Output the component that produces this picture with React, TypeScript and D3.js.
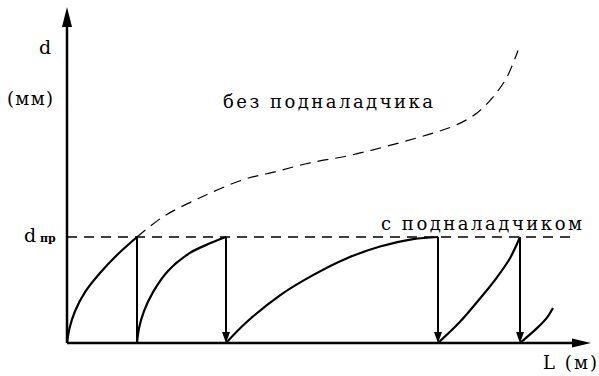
import React from 'react';
import * as d3 from 'd3';

// wear d vs path L, with and without the adjuster
const cycle1 = [[0, 0], [0.25, 0.14], [0.8, 0.3], [1.8, 0.48], [3.3, 0.66], [5.0, 0.83], [7.0, 1.0]];
const cycle2 = [[7.0, 0], [7.2, 0.14], [7.7, 0.3], [8.6, 0.48], [10.1, 0.68], [12.3, 0.85], [14.3, 0.94], [15.9, 1.0]];
const cycle3 = [[15.9, 0], [18, 0.2], [21.3, 0.45], [24.6, 0.64], [28, 0.8], [31.3, 0.91], [34.6, 0.98], [37.1, 1.0]];
const cycle4 = [[37.1, 0], [39.3, 0.2], [41.3, 0.42], [43, 0.62], [44.3, 0.8], [45.3, 1.0]];
const cycle5 = [[45.3, 0], [47, 0.14], [48, 0.24], [48.6, 0.33]];
const cycles = [cycle1, cycle2, cycle3, cycle4, cycle5];

const resetAt = [7.0, 15.9, 37.1, 45.3];
const resetArrow = [false, true, true, true];

const noAdjuster = [
  [7.0, 1.0], [9.6, 1.19], [13.3, 1.37], [17.6, 1.54], [21, 1.62], [24.3, 1.7],
  [28.3, 1.77], [33.3, 1.89], [36.6, 1.98], [39, 2.06], [41, 2.17], [42.6, 2.32],
  [44, 2.51], [45.1, 2.76],
];

const dLimit = 1.0;
const xMax = 52.4;
const yMax = 3.17;
const limitEnd = 50.3;

const W = 599;
const H = 376;
const txt = { fontFamily: "'DejaVu Serif', 'Liberation Serif', serif" };

const App = () => {
  const x = d3.scaleLinear().domain([0, xMax]).range([67, 591]);
  const y = d3.scaleLinear().domain([0, dLimit]).range([343, 237]);

  const line = d3.line<number[]>()
    .x(d => x(d[0]))
    .y(d => y(d[1]))
    .curve(d3.curveCatmullRom.alpha(0.5));

  const x0 = x(0);
  const y0 = y(0);

  return (
    <svg width={W} height={H} style={{ position: 'absolute', left: 0, top: 0, background: '#fff' }}>
      {/* axes */}
      <line x1={x0} y1={y0} x2={x(xMax) - 12} y2={y0} stroke="#000" strokeWidth={2.5} />
      <path d={`M${x(xMax)},${y0} L${x(xMax) - 19},${y0 - 4.5} L${x(xMax) - 19},${y0 + 4.5} Z`} fill="#000" />
      <line x1={x0} y1={y0} x2={x0} y2={y(yMax) + 12} stroke="#000" strokeWidth={2.5} />
      <path d={`M${x0},${y(yMax)} L${x0 - 5},${y(yMax) + 20} L${x0 + 5},${y(yMax) + 20} Z`} fill="#000" />

      {/* limit */}
      <line x1={x0} y1={y(dLimit)} x2={x(limitEnd)} y2={y(dLimit)} stroke="#000" strokeWidth={1.3}
        strokeDasharray="10,7" />

      {/* without adjuster */}
      <path d={line(noAdjuster) ?? ''} fill="none" stroke="#000" strokeWidth={1.2} strokeDasharray="11,7" />

      {/* with adjuster */}
      {cycles.map((c, i) => (
        <path key={i} d={line(c) ?? ''} fill="none" stroke="#000" strokeWidth={2.2} />
      ))}
      {resetAt.map((v, i) => (
        <line key={i} x1={x(v)} y1={y(dLimit)} x2={x(v)} y2={resetArrow[i] ? y0 - 9 : y0}
          stroke="#000" strokeWidth={2} />
      ))}
      {resetAt.map((v, i) => resetArrow[i] ? (
        <path key={'a' + i} d={`M${x(v) - 4},${y0 - 11} L${x(v) + 4},${y0 - 11} L${x(v)},${y0} Z`} fill="#000" />
      ) : null)}

      {/* labels */}
      <g fill="#000" style={txt}>
        <text style={txt} x={39} y={54} fontSize={19}>d</text>
        <text style={txt} x={7} y={105} fontSize={18} textLength={46} lengthAdjust="spacing">(мм)</text>
        <text style={txt} x={24} y={y(dLimit) + 5} fontSize={19}>d</text>
        <text style={txt} x={40} y={y(dLimit) + 5} fontSize={11} fontWeight="bold">пр</text>
        <text style={txt} x={223} y={108} fontSize={18} textLength={210} lengthAdjust="spacing">без подналадчика</text>
        <text style={txt} x={381} y={230} fontSize={18} textLength={201} lengthAdjust="spacing">с подналадчиком</text>
        <text style={txt} x={543} y={369} fontSize={18} textLength={54} lengthAdjust="spacing">L (м)</text>
      </g>
    </svg>
  );
};

export default App;
